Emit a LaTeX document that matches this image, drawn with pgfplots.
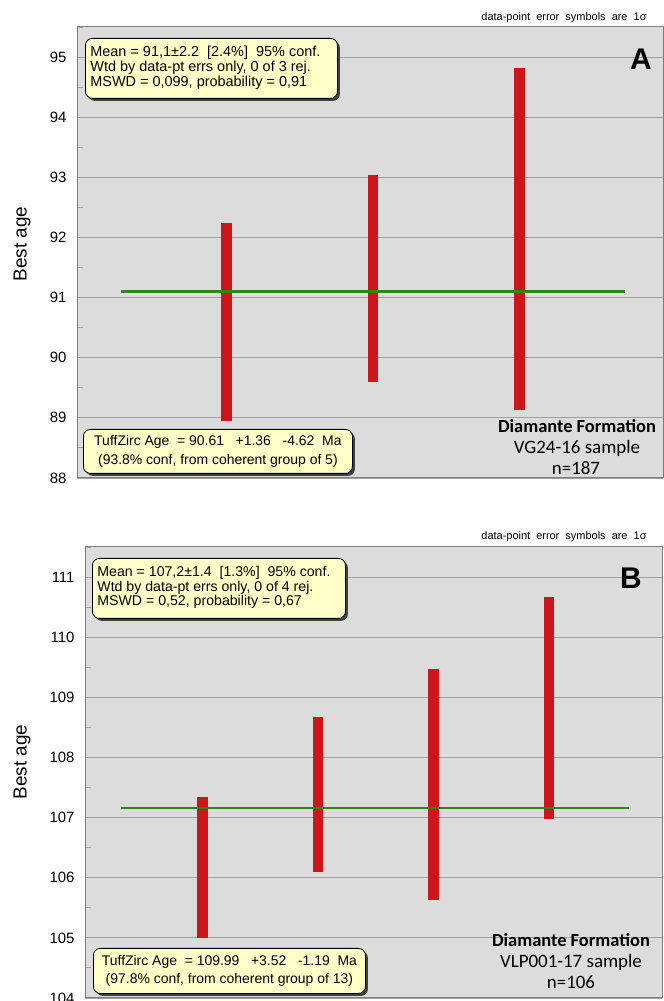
\documentclass[border=0pt]{standalone}
\usepackage{pgfplots}
\pgfplotsset{compat=1.18}
\usepackage{fontspec}
\setmainfont{Liberation Sans}
\newfontfamily\calibri{Carlito}
\usetikzlibrary{shadows}
\definecolor{bg}{RGB}{220,220,220}
\definecolor{gridc}{RGB}{160,160,160}
\definecolor{framec}{RGB}{125,125,125}
\definecolor{barred}{RGB}{204,22,28}
\definecolor{lgreen}{RGB}{45,135,20}
\definecolor{boxy}{RGB}{255,255,200}
\pgfplotsset{
  panel/.style={
    scale only axis, anchor=south west,
    axis background/.style={fill=bg},
    axis line style={draw=framec, line width=1bp},
    xtick=\empty,
    ytick distance=1, minor y tick num=1,
    ymajorgrids, major grid style={draw=gridc, line width=0.9bp},
    tick align=inside, ytick pos=left,
    major tick length=6bp, minor tick length=6bp,
    tick style={draw=gridc, line width=0.9bp},
    yticklabel style={font=\fontsize{15}{15}\selectfont, xshift=-7bp},
    /pgf/number format/assume math mode=true,
    clip=false,
  },
  bar/.style={draw=barred, line width=10.5bp, line cap=butt},
}
\tikzset{
  infobox/.style={draw=black, line width=0.8bp, fill=boxy, rounded corners=7bp,
    drop shadow={shadow xshift=2.5bp, shadow yshift=-2.5bp, fill=black!75, opacity=1},
    anchor=north west, inner xsep=0bp, inner ysep=0bp},
}
\newcommand\boxl[2]{\makebox[#1][l]{\hspace{5bp}\renewcommand\arraystretch{1}\begin{tabular}{@{}l@{}}#2\end{tabular}}}
\newcommand\boxc[2]{\makebox[#1][c]{\renewcommand\arraystretch{1}\begin{tabular}{@{}c@{}}#2\end{tabular}}}
\begin{document}
\begin{tikzpicture}[x=1bp,y=1bp]
\useasboundingbox (0,0) rectangle (664,1001);
% ---------- Panel A ----------
\begin{axis}[panel, at={(77bp,523bp)}, width=586bp, height=451bp,
  xmin=-0.02, xmax=3.98, ymin=88, ymax=95.5]
\addplot[bar] coordinates {(1,88.95) (1,92.24)};
\addplot[bar] coordinates {(2,89.60) (2,93.04)};
\addplot[bar] coordinates {(3,89.13) (3,94.82)};
\addplot[draw=lgreen, line width=3bp] coordinates {(0.28,91.1) (3.72,91.1)};
\end{axis}
% ---------- Panel B ----------
\begin{axis}[panel, at={(85bp,3bp)}, width=577bp, height=451bp,
  xmin=-0.02, xmax=4.98, ymin=104, ymax=111.5]
\addplot[bar] coordinates {(1,105.00) (1,107.35)};
\addplot[bar] coordinates {(2,106.10) (2,108.67)};
\addplot[bar] coordinates {(3,105.63) (3,109.47)};
\addplot[bar] coordinates {(4,106.98) (4,110.67)};
\addplot[draw=lgreen, line width=2bp] coordinates {(0.29,107.16) (4.69,107.16)};
\end{axis}
% ---------- texts ----------
\node[rotate=90, font=\fontsize{19}{19}\selectfont] at (22,757) {Best age};
\node[rotate=90, font=\fontsize{19}{19}\selectfont] at (22,239) {Best age};
\node[font=\fontsize{11}{11}\selectfont] at (564,983) {data-point\ \ error\ \ symbols\ \ are\ \ 1σ};
\node[font=\fontsize{11}{11}\selectfont] at (564,464) {data-point\ \ error\ \ symbols\ \ are\ \ 1σ};
\node[font=\bfseries\fontsize{30}{30}\selectfont] at (641,942) {A};
\node[font=\bfseries\fontsize{30}{30}\selectfont] at (631,423) {B};
% boxes A
\node[infobox, minimum width=252bp, minimum height=60bp,
  font=\fontsize{14.5}{14.5}\selectfont] at (85,963)
  {\boxl{252bp}{Mean = 91,1±2.2\ \ [2.4\%]\ \ 95\% conf.\\Wtd by data-pt errs only, 0 of 3 rej.\\MSWD = 0,099, probability = 0,91}};
\node[infobox, minimum width=269bp, minimum height=44bp,
  font=\fontsize{14}{18.5}\selectfont] at (83,572)
  {\boxc{269bp}{TuffZirc Age\ \ = 90.61\ \ \ +1.36\ \ \ -4.62\ \ Ma\\(93.8\% conf, from coherent group of 5)}};
% boxes B
\node[infobox, minimum width=253bp, minimum height=60bp,
  font=\fontsize{14.2}{14.5}\selectfont] at (92,443)
  {\boxl{253bp}{Mean = 107,2±1.4\ \ [1.3\%]\ \ 95\% conf.\\Wtd by data-pt errs only, 0 of 4 rej.\\MSWD = 0,52, probability = 0,67}};
\node[infobox, minimum width=272bp, minimum height=45bp,
  font=\fontsize{14}{18.5}\selectfont] at (93,53)
  {\boxc{272bp}{TuffZirc Age\ \ = 109.99\ \ \ +3.52\ \ \ -1.19\ \ Ma\\(97.8\% conf, from coherent group of 13)}};
% sample labels
\node[font=\calibri\bfseries\fontsize{18.5}{18.5}\selectfont] at (577,575) {Diamante Formation};
\node[font=\calibri\fontsize{19}{19}\selectfont] at (577,553) {VG24-16 sample};
\node[font=\calibri\fontsize{19}{19}\selectfont] at (576,533) {n=187};
\node[font=\calibri\bfseries\fontsize{18.5}{18.5}\selectfont] at (571,61) {Diamante Formation};
\node[font=\calibri\fontsize{19}{19}\selectfont] at (571,39) {VLP001-17 sample};
\node[font=\calibri\fontsize{19}{19}\selectfont] at (571,19) {n=106};
\end{tikzpicture}
\end{document}
